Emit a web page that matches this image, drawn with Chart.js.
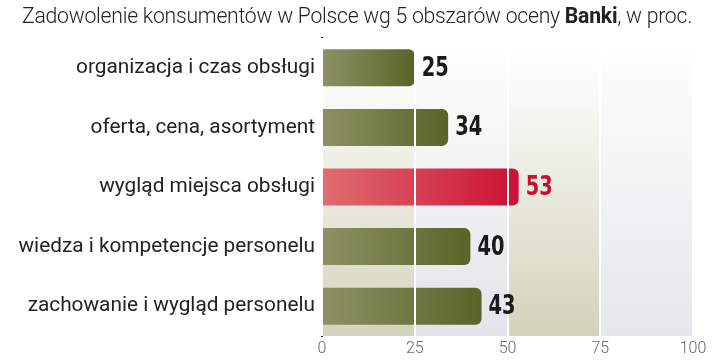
<!DOCTYPE html>
<html><head><meta charset="utf-8">
<script src="https://cdn.jsdelivr.net/npm/chart.js@4"></script>
<style>
html,body{margin:0;padding:0;background:#fff;}
#wrap{position:relative;width:720px;height:360px;}
#title{position:absolute;left:0;top:3px;width:714px;text-align:center;font-family:Roboto,"Open Sans",sans-serif;font-weight:300;font-size:21.2px;color:#222;white-space:nowrap;letter-spacing:-0.25px;}
#title b{font-weight:700;}
canvas{position:absolute;left:0;top:0;}
</style></head>
<body>
<div id="wrap">
<canvas id="c" width="720" height="360"></canvas>
<div id="title">Zadowolenie konsumentów w Polsce wg 5 obszarów oceny <b>Banki</b>, w proc.</div>
</div>
<script>
const categories = ["organizacja i czas obsługi","oferta, cena, asortyment","wygląd miejsca obsługi","wiedza i kompetencje personelu","zachowanie i wygląd personelu"];
const values = [25, 34, 53, 40, 43];
const highlighted = [false, false, true, false, false];
const xTicks = [0, 25, 50, 75, 100];

const bandColors = ["#d3d4bd","#e2e4ea","#d2d3bb","#e5e7ec"];

const bandsPlugin = {
  id: 'bands',
  beforeDatasetsDraw(chart) {
    const {ctx, chartArea:a, scales:{x}} = chart;
    ctx.save();
    for (let i = 0; i < xTicks.length - 1; i++) {
      const l = x.getPixelForValue(xTicks[i]), r = x.getPixelForValue(xTicks[i+1]);
      const g = ctx.createLinearGradient(0, a.top, 0, a.bottom);
      g.addColorStop(0, '#ffffff');
      g.addColorStop(0.15, '#fbfbf9');
      g.addColorStop(1, bandColors[i]);
      ctx.fillStyle = g;
      ctx.fillRect(l, a.top, r - l, a.bottom - a.top);
    }
    ctx.restore();
  }
};

const labelPlugin = {
  id: 'vals',
  afterDraw(chart) {
    const {ctx} = chart;
    const meta = chart.getDatasetMeta(0);
    ctx.save();
    ctx.font = "bold 27px 'DejaVu Sans', sans-serif";
    ctx.textBaseline = 'middle';
    ctx.textAlign = 'left';
    meta.data.forEach((el, i) => {
      ctx.save();
      ctx.translate(el.x + 7, el.y + 1);
      ctx.scale(0.72, 1);
      ctx.fillStyle = highlighted[i] ? '#c8102e' : '#1a1a1a';
      ctx.fillText(String(values[i]), 0, 0);
      ctx.restore();
    });
    ctx.restore();
  }
};

function barFill(context) {
  const chart = context.chart;
  const a = chart.chartArea;
  if (!a) return '#6b7340';
  const i = context.dataIndex;
  const x = chart.scales.x;
  const l = x.getPixelForValue(0), r = x.getPixelForValue(values[i]);
  const g = chart.ctx.createLinearGradient(l, 0, r, 0);
  if (highlighted[i]) {
    g.addColorStop(0, '#e06e70');
    g.addColorStop(1, '#cc1034');
  } else {
    g.addColorStop(0, '#8d9266');
    g.addColorStop(1, '#596427');
  }
  return g;
}

new Chart(document.getElementById('c'), {
  type: 'bar',
  data: {
    labels: categories,
    datasets: [{
      data: values,
      backgroundColor: barFill,
      borderWidth: 0,
      borderSkipped: false,
      borderRadius: {topLeft: 0, bottomLeft: 0, topRight: 6, bottomRight: 6},
      barPercentage: 0.62,
      categoryPercentage: 1
    }]
  },
  options: {
    indexAxis: 'y',
    responsive: false,
    animation: false,
    events: [],
    layout: {padding: {top: 38, right: 27, left: 0, bottom: 0}},
    plugins: {legend: {display: false}, tooltip: {enabled: false}, title: {display: false}},
    scales: {
      x: {
        min: 0, max: 100,
        afterBuildTicks(scale) { scale.ticks = xTicks.map(v => ({value: v})); },
        afterFit(scale) { scale.height = 24; },
        grid: {color: '#ffffff', lineWidth: 2, z: 1, drawTicks: false, drawOnChartArea: true},
        border: {display: false},
        ticks: {padding: 3, color: '#666', font: {family: 'Roboto', weight: '300', size: 16}}
      },
      y: {
        afterFit(scale) { scale.width = 322; },
        grid: {display: false, drawTicks: false},
        border: {display: true, color: '#111', width: 2},
        ticks: {padding: 7, color: '#222', font: {family: "Roboto, 'Open Sans', sans-serif", size: 20.8}}
      }
    }
  },
  plugins: [bandsPlugin, labelPlugin]
});
</script>
</body></html>
